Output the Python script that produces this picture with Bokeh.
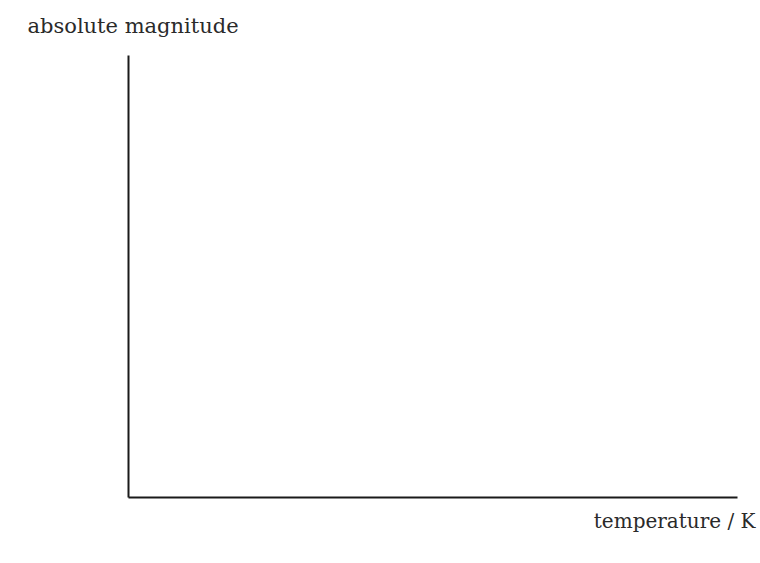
from bokeh.plotting import figure
from bokeh.models import Range1d, Label, LinearAxis
from bokeh.embed import file_html
from bokeh.resources import INLINE

# Axis labels (the chart is an empty set of axes)
y_label = "absolute magnitude"
x_label = "temperature / K"
axis_bounds = (0, 1)

W, H = 760, 563
left, right, top, bottom = 128, 737, 55, 497   # frame of the drawn axes, px
sx = (right - left) / (axis_bounds[1] - axis_bounds[0])
sy = (bottom - top) / (axis_bounds[1] - axis_bounds[0])

p = figure(width=W, height=H, output_backend="svg", toolbar_location=None,
           x_range=Range1d(-left / sx, axis_bounds[1] + (W - right) / sx),
           y_range=Range1d(-(H - bottom) / sy, axis_bounds[1] + top / sy),
           x_axis_location=None, y_axis_location=None,
           min_border=0)
p.outline_line_color = None
p.grid.visible = False
p.background_fill_color = "#ffffff"
p.border_fill_color = "#ffffff"

xax = LinearAxis(fixed_location=0, bounds=axis_bounds)
yax = LinearAxis(fixed_location=0, bounds=axis_bounds)
for ax in (xax, yax):
    ax.axis_line_width = 2
    ax.axis_line_color = "#1a1a1a"
    ax.major_tick_line_color = None
    ax.minor_tick_line_color = None
    ax.major_label_text_font_size = "0px"
    ax.major_label_text_color = None
p.add_layout(xax, "below")
p.add_layout(yax, "left")

font = "DejaVu Serif"
p.add_layout(Label(x=(27 - left) / sx, y=(bottom - 25) / sy, text=y_label,
                   text_font=font, text_font_size="21px", text_color="#2a2a2a",
                   text_align="left", text_baseline="alphabetic"))
p.add_layout(Label(x=(755 - left) / sx, y=(bottom - 520) / sy, text=x_label,
                   text_font=font, text_font_size="20px", text_color="#2a2a2a",
                   text_align="right", text_baseline="alphabetic"))

open("out.html", "w").write(file_html(p, INLINE))
